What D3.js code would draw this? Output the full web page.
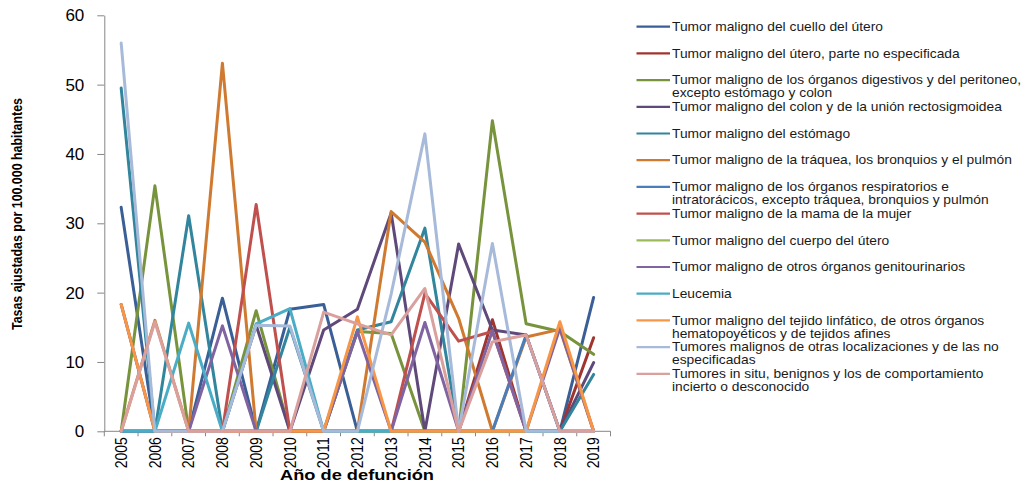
<!DOCTYPE html>
<html>
<head>
<meta charset="utf-8">
<script src="https://cdn.jsdelivr.net/npm/d3@7"></script>
<style>
  html, body { margin: 0; padding: 0; background: #fff; }
  svg { display: block; }
</style>
</head>
<body>
<div id="chart"></div>
<script>
// Tasas ajustadas de mortalidad por tumores, 2005-2019
const years = ["2005","2006","2007","2008","2009","2010","2011","2012","2013","2014","2015","2016","2017","2018","2019"];
const yTicks = [0, 10, 20, 30, 40, 50, 60];

const seriesNames = [
  "Tumor maligno del cuello del útero",
  "Tumor maligno del útero, parte no especificada",
  "Tumor maligno de los órganos digestivos y del peritoneo,\nexcepto estómago y colon",
  "Tumor maligno del colon y de la unión rectosigmoidea",
  "Tumor maligno del estómago",
  "Tumor maligno de la tráquea, los bronquios y el pulmón",
  "Tumor maligno de los órganos respiratorios e\nintratorácicos, excepto tráquea, bronquios y pulmón",
  "Tumor maligno de la mama de la mujer",
  "Tumor maligno del cuerpo del útero",
  "Tumor maligno de otros órganos genitourinarios",
  "Leucemia",
  "Tumor maligno del tejido linfático, de otros órganos\nhematopoyéticos y de tejidos afines",
  "Tumores malignos de otras localizaciones y de las no\nespecificadas",
  "Tumores in situ, benignos y los de comportamiento\nincierto o desconocido"
];

const cuelloUtero      = [32.3, 0, 0, 19.2, 0, 17.6, 18.3, 0, 0, 0, 0, 0, 0, 0, 19.3];
const uteroNoEspec     = [0, 0, 0, 0, 0, 0, 0, 0, 0, 0, 0, 16.1, 0, 0, 13.5];
const digestivos       = [0, 35.4, 0, 0, 17.4, 0, 0, 14.4, 14.1, 0, 0, 44.8, 15.5, 14.4, 11.1];
const colon            = [18.3, 0, 0, 0, 15.3, 0, 14.6, 17.6, 31.5, 0, 27.0, 14.6, 13.9, 0, 9.9];
const estomago         = [49.5, 0, 31.1, 0, 0, 15.0, 0, 14.6, 15.8, 29.3, 0, 0, 0, 0, 8.2];
const traquea          = [0, 16.0, 0, 53.1, 0, 0, 0, 0, 31.7, 27.3, 16.3, 0, 13.6, 14.7, 0];
const respiratorios    = [0, 0, 0, 0, 0, 0, 0, 0, 0, 0, 0, 0, 13.9, 0, 0];
const mama             = [0, 0, 0, 0, 32.7, 0, 0, 0, 0, 19.9, 13.0, 14.4, 0, 0, 0];
const cuerpoUtero      = [0, 0, 0, 0, 0, 0, 0, 0, 0, 0, 0, 0, 0, 0, 0];
const genitourinarios  = [0, 0, 0, 15.2, 0, 0, 0, 14.4, 0, 15.7, 0, 14.5, 0, 14.9, 0];
const leucemia         = [0, 0, 15.6, 0, 15.5, 17.7, 0, 0, 0, 0, 0, 0, 0, 0, 0];
const tejidoLinfatico  = [18.3, 0, 0, 0, 0, 0, 0, 16.5, 0, 0, 0, 0, 0, 15.8, 0];
const otrasLocaliz     = [56.0, 0, 0, 0, 15.3, 15.2, 0, 0, 19.8, 42.9, 0, 27.1, 0, 0, 0];
const inSitu           = [0, 15.8, 0, 0, 0, 0, 17.2, 15.5, 13.9, 20.6, 0, 12.9, 13.9, 0, 0];

const seriesValues = [cuelloUtero, uteroNoEspec, digestivos, colon, estomago, traquea,
  respiratorios, mama, cuerpoUtero, genitourinarios, leucemia, tejidoLinfatico, otrasLocaliz, inSitu];

const colors = ["#3A5F96", "#A0342F", "#77933C", "#5F497A", "#31859C", "#CF7A30", "#4A7EBB",
  "#C0504D", "#9BBB59", "#8064A2", "#4BACC6", "#F79646", "#A7BAD9", "#D9A09D"];

const W = 1024, H = 483;
const plot = { left: 104.3, right: 610.5, top: 15.3, bottom: 431.3 };
const axisColor = "#868686";

const svg = d3.select("#chart").append("svg")
  .attr("width", W).attr("height", H)
  .style("font-family", "'Liberation Sans', Arial, sans-serif");

svg.append("rect").attr("width", W).attr("height", H).attr("fill", "#fff");

const x = d3.scaleBand().domain(years).range([plot.left, plot.right]).padding(0);
const y = d3.scaleLinear().domain([0, 60]).range([plot.bottom, plot.top]);
const cx = yr => x(yr) + x.bandwidth() / 2;

// Y axis
const yAxis = svg.append("g")
  .attr("transform", `translate(${plot.left},0)`)
  .call(d3.axisLeft(y).tickValues(yTicks).tickSize(7).tickPadding(13).tickSizeOuter(0));
yAxis.select(".domain").attr("stroke", axisColor);
yAxis.selectAll(".tick line").attr("stroke", axisColor);
yAxis.selectAll(".tick text")
  .attr("fill", "#000")
  .style("font-size", "17px");

// X axis: baseline, tick marks on category boundaries, rotated year labels
const xAxis = svg.append("g");
xAxis.append("line")
  .attr("x1", plot.left).attr("x2", plot.right)
  .attr("y1", y(0)).attr("y2", y(0))
  .attr("stroke", axisColor);
const boundaries = years.map(yr => x(yr)).concat([x(years[years.length - 1]) + x.bandwidth()]);
xAxis.selectAll("line.tk").data(boundaries).enter().append("line")
  .attr("class", "tk")
  .attr("x1", d => d).attr("x2", d => d)
  .attr("y1", y(0)).attr("y2", y(0) + 5)
  .attr("stroke", axisColor);
xAxis.selectAll("text.yr").data(years).enter().append("text")
  .attr("class", "yr")
  .attr("transform", d => `translate(${cx(d)},${y(0) + 6}) rotate(-90)`)
  .attr("text-anchor", "end")
  .attr("dy", "0.36em")
  .style("font-size", "16px")
  .attr("textLength", 31).attr("lengthAdjust", "spacingAndGlyphs")
  .attr("fill", "#000")
  .text(d => d);

// Axis titles
svg.append("text")
  .attr("x", 357).attr("y", 480)
  .attr("text-anchor", "middle")
  .style("font-size", "14px").style("font-weight", "bold")
  .attr("textLength", 154).attr("lengthAdjust", "spacingAndGlyphs")
  .text("Año de defunción");

svg.append("text")
  .attr("transform", "translate(22,214) rotate(-90)")
  .attr("text-anchor", "middle")
  .style("font-family", "'Liberation Sans Narrow', 'Liberation Sans', Arial, sans-serif")
  .style("font-size", "14px").style("font-weight", "bold")
  .attr("textLength", 232).attr("lengthAdjust", "spacingAndGlyphs")
  .text("Tasas ajustadas por 100.000 habitantes");

// Series lines, drawn in order so later series sit on top
const line = d3.line()
  .x((d, i) => cx(years[i]))
  .y(d => y(d));

svg.append("g").selectAll("path").data(seriesValues).enter().append("path")
  .attr("d", d => line(d))
  .attr("fill", "none")
  .attr("stroke", (d, i) => colors[i])
  .attr("stroke-width", 3)
  .attr("stroke-linejoin", "round")
  .attr("stroke-linecap", "round");

// Legend
const legend = svg.append("g");
const slot = 26.7, firstY = 26.7, textX = 672;
seriesNames.forEach((name, i) => {
  const cy = firstY + i * slot;
  legend.append("line")
    .attr("x1", 636.5).attr("x2", 670)
    .attr("y1", cy).attr("y2", cy)
    .attr("stroke", colors[i]).attr("stroke-width", 2.2);
  const t = legend.append("text")
    .attr("transform", `translate(${textX},${cy}) scale(1.15,1)`)
    .style("font-size", "12px")
    .attr("fill", "#1a1a1a");
  name.split("\n").forEach((ln, j) => {
    t.append("tspan").attr("x", 0).attr("dy", j === 0 ? "0.35em" : "13px").text(ln);
  });
});
</script>
</body>
</html>
